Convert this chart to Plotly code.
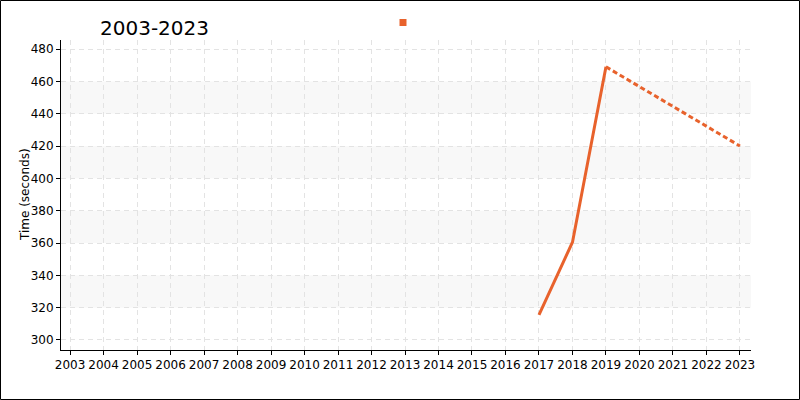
import plotly.graph_objects as go

years_actual = [2017, 2018, 2019]
times_actual = [315.5, 360.5, 469]
years_proj = [2019, 2023]
times_proj = [469, 420]
x_ticks = list(range(2003, 2024))
y_ticks = list(range(300, 481, 20))
title_text = "2003-2023"
y_title = "Time (seconds)"

color = "#e8622c"
W, H = 800, 400
L, R, T, B = 61, 49, 40, 50
pw, ph = W - L - R, H - T - B

fig = go.Figure()
fig.add_trace(go.Scatter(x=years_actual, y=times_actual, mode="lines",
                         line=dict(color=color, width=3), showlegend=False))
fig.add_trace(go.Scatter(x=years_proj, y=times_proj, mode="lines",
                         line=dict(color=color, width=3, dash="5px,3px"), showlegend=False))
fig.add_trace(go.Scatter(x=[None], y=[None], mode="markers", name=" ",
                         marker=dict(symbol="square", size=7, color=color), showlegend=True))

shapes = []
for lo in y_ticks[1::2][:-1]:
    shapes.append(dict(type="rect", xref="paper", yref="y", x0=0, x1=1, y0=lo, y1=lo + 20,
                       fillcolor="#f8f8f8", line=dict(width=0), layer="below"))
shapes.append(dict(type="rect", xref="paper", yref="paper",
                   x0=(0.5 - L) / pw, x1=(W - 0.5 - L) / pw,
                   y0=-(H - 0.5 - (T + ph)) / ph,
                   y1=(T + ph - 0.5) / ph,
                   line=dict(color="black", width=1), fillcolor="rgba(0,0,0,0)"))

fig.update_layout(
    width=W, height=H,
    margin=dict(l=L, r=R, t=T, b=B, autoexpand=False),
    paper_bgcolor="white", plot_bgcolor="white",
    font=dict(family="DejaVu Sans", size=12, color="black"),
    title=dict(text=title_text, x=100 / W, xanchor="left", y=1 - 28 / H, yanchor="middle",
               font=dict(size=20, color="black")),
    shapes=shapes,
    annotations=[dict(text=y_title, xref="paper", yref="paper", x=(25 - L) / pw, y=0.5,
                      xanchor="center", yanchor="middle", textangle=-90, showarrow=False,
                      font=dict(size=12, color="black"))],
    showlegend=True,
    legend=dict(xref="container", yref="container", x=383 / W, y=1 - 8 / H,
                xanchor="left", yanchor="top",
                bgcolor="rgba(0,0,0,0)", itemwidth=30, font=dict(size=1)),
    xaxis=dict(range=[2002.73, 2023.33], tickvals=x_ticks, ticktext=[str(v) for v in x_ticks],
               showgrid=True, gridcolor="#e3e3e3", griddash="5px,4px", gridwidth=1,
               showline=True, linecolor="black", linewidth=1, ticks="outside", ticklen=4,
               tickcolor="black", zeroline=False, tickangle=0, tickfont=dict(size=12)),
    yaxis=dict(range=[293.8, 485.6], tickvals=y_ticks,
               showgrid=True, gridcolor="#e3e3e3", griddash="5px,4px", gridwidth=1,
               showline=True, linecolor="black", linewidth=1, ticks="outside", ticklen=4,
               tickcolor="black", zeroline=False, tickfont=dict(size=12)),
)

fig.write_html("out.html", config={"displayModeBar": False},
               post_script="document.body.style.margin='0';document.body.style.padding='0';")
